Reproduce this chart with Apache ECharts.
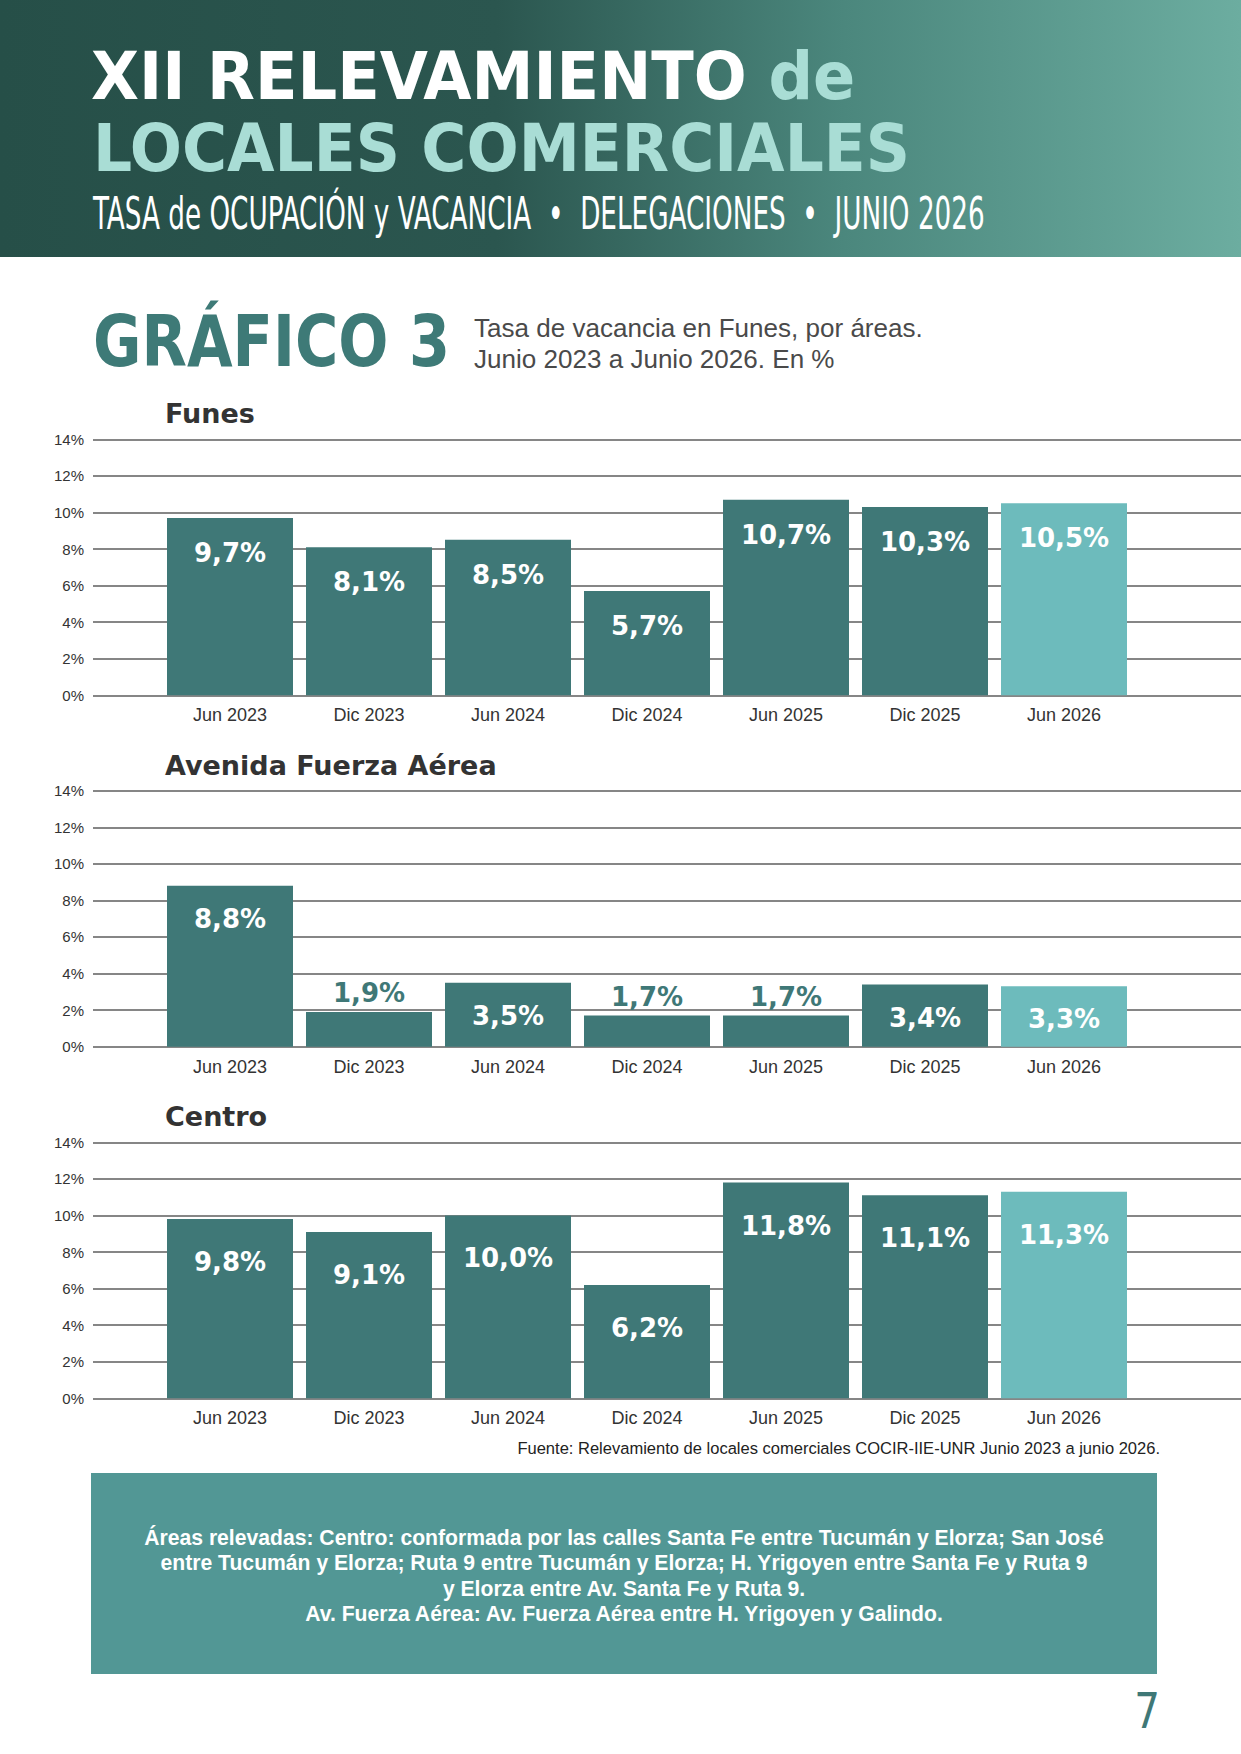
<!DOCTYPE html>
<html>
<head>
<meta charset="utf-8">
<script src="https://cdn.jsdelivr.net/npm/echarts@6/dist/echarts.min.js"></script>
<style>
html,body{margin:0;padding:0;background:#fff;}
#chart{width:1241px;height:1754px;}
</style>
</head>
<body>
<div id="chart"></div>
<script>
// ---------- DATA ----------
const categories = ['Jun 2023', 'Dic 2023', 'Jun 2024', 'Dic 2024', 'Jun 2025', 'Dic 2025', 'Jun 2026'];
const funesValues = [9.7, 8.1, 8.5, 5.7, 10.7, 10.3, 10.5];
const avenidaValues = [8.8, 1.9, 3.5, 1.7, 1.7, 3.4, 3.3];
const centroValues = [9.8, 9.1, 10.0, 6.2, 11.8, 11.1, 11.3];
const yMin = 0, yMax = 14, yStep = 2;
const panelTitles = ['Funes', 'Avenida Fuerza Aérea', 'Centro'];
const headerLine1a = 'XII RELEVAMIENTO ';
const headerLine1b = 'de';
const headerLine2 = 'LOCALES COMERCIALES';
const headerLine3 = 'TASA de OCUPACIÓN y VACANCIA  •  DELEGACIONES  •  JUNIO 2026';
const graphTitle = 'GRÁFICO 3';
const graphDesc = ['Tasa de vacancia en Funes, por áreas.', 'Junio 2023 a Junio 2026. En %'];
const sourceText = 'Fuente: Relevamiento de locales comerciales COCIR-IIE-UNR Junio 2023 a junio 2026.';
const noteLines = [
  'Áreas relevadas: Centro: conformada por las calles Santa Fe entre Tucumán y Elorza; San José',
  'entre Tucumán y Elorza; Ruta 9 entre Tucumán y Elorza; H. Yrigoyen entre Santa Fe y Ruta 9',
  'y Elorza entre Av. Santa Fe y Ruta 9.',
  'Av. Fuerza Aérea: Av. Fuerza Aérea entre H. Yrigoyen y Galindo.'
];
const pageNumber = '7';

// ---------- STYLE / LAYOUT ----------
const DARK = '#3f7877';
const LIGHT = '#6dbbbc';
const SANS = '"Liberation Sans", Arial, Helvetica, sans-serif';
const BOLDF = '"DejaVu Sans", "Liberation Sans", sans-serif';
const CONDB = '"DejaVu Sans Condensed", "DejaVu Sans", sans-serif';
const NARROW = '"Liberation Sans Narrow", "DejaVu Sans Condensed", "DejaVu Sans", sans-serif';

const mctx = document.createElement('canvas').getContext('2d');
function textW(text, weight, size, family) {
  mctx.font = weight + ' ' + size + 'px ' + family;
  return mctx.measureText(text).width;
}
function fitScale(text, weight, size, family, target) {
  return target / textW(text, weight, size, family);
}
function T(x, y, text, o) {
  const st = {
    text: text, fill: o.fill || '#333', fontSize: o.size, fontWeight: o.weight || 'normal',
    fontFamily: o.family || SANS, align: o.align || 'left', textAlign: o.align || 'left',
    verticalAlign: 'middle', textVerticalAlign: 'middle'
  };
  if (o.rich) st.rich = o.rich;
  return { type: 'text', x: x, y: y, scaleX: o.scaleX || 1, silent: true, z: 10, style: st };
}

const panels = [
  { values: funesValues, top: 439.3, labelDist: 22 },
  { values: avenidaValues, top: 790.7, labelDist: 20 },
  { values: centroValues, top: 1142.3, labelDist: 30 }
];
const plotH = 256;
const barLeft = 160.5, barAreaW = 973, barW = 126;

const grids = [], xAxes = [], yAxes = [], series = [];
panels.forEach((p, k) => {
  grids.push({ left: 93, right: 0, top: p.top, height: plotH });
  grids.push({ left: barLeft, width: barAreaW, top: p.top, height: plotH });
  const ga = 2 * k, gb = 2 * k + 1;
  xAxes.push({ gridIndex: ga, type: 'value', min: 0, max: 1, show: false });
  yAxes.push({
    gridIndex: ga, type: 'value', min: yMin, max: yMax, interval: yStep,
    axisLine: { show: false }, axisTick: { show: false },
    axisLabel: { formatter: '{value}%', fontSize: 15, color: '#333', margin: 9, fontFamily: SANS },
    splitLine: { lineStyle: { color: '#5e5e5e', width: 1.6 } }
  });
  xAxes.push({
    gridIndex: gb, type: 'category', data: categories,
    axisLine: { show: false }, axisTick: { show: false },
    axisLabel: { interval: 0, fontSize: 18, color: '#333', margin: 11, fontFamily: SANS }
  });
  yAxes.push({ gridIndex: gb, type: 'value', min: yMin, max: yMax, show: false });
  const last = p.values.length - 1;
  series.push({
    type: 'bar', xAxisIndex: k * 2 + 1, yAxisIndex: k * 2 + 1, barWidth: barW, z: 3,
    data: p.values.map((v, i) => {
      const small = v < 2;
      return {
        value: v,
        itemStyle: { color: i === last ? LIGHT : DARK },
        label: small
          ? { position: 'top', distance: 6, color: DARK }
          : { position: 'insideTop', distance: p.labelDist, color: '#fff' }
      };
    }),
    label: {
      show: true, fontSize: 26, fontWeight: 'bold', fontFamily: BOLDF,
      formatter: (d) => d.value.toFixed(1).replace('.', ',') + '%'
    }
  });
});

// ---------- GRAPHIC (page furniture) ----------
const graphics = [];
graphics.push({
  type: 'rect', shape: { x: 0, y: 0, width: 1241, height: 257 }, silent: true, z: 1,
  style: {
    fill: new echarts.graphic.LinearGradient(0, 0, 1, 0, [
      { offset: 0, color: '#264f48' },
      { offset: 0.4, color: '#2b564f' },
      { offset: 0.68, color: '#4b877d' },
      { offset: 1, color: '#6cada0' }
    ])
  }
});
const hSize = 66;
const l1s = fitScale(headerLine1a + headerLine1b, 'bold', hSize, CONDB, 764);
graphics.push(T(91, 76, '{a|' + headerLine1a + '}{b|' + headerLine1b + '}', {
  size: hSize, weight: 'bold', family: CONDB, fill: '#fff', scaleX: l1s,
  rich: {
    a: { fill: '#ffffff', fontSize: hSize, fontWeight: 'bold', fontFamily: CONDB },
    b: { fill: '#a9ddd5', fontSize: hSize, fontWeight: 'bold', fontFamily: CONDB }
  }
}));
graphics.push(T(93, 148.5, headerLine2, {
  size: hSize, weight: 'bold', family: CONDB, fill: '#a9ddd5',
  scaleX: fitScale(headerLine2, 'bold', hSize, CONDB, 817)
}));
graphics.push(T(93, 214, headerLine3, {
  size: 45, weight: 'normal', family: NARROW, fill: '#ffffff',
  scaleX: fitScale(headerLine3, 'normal', 45, NARROW, 892)
}));
graphics.push(T(93, 341.5, graphTitle, {
  size: 72, weight: 'bold', family: BOLDF, fill: '#3e7a77',
  scaleX: fitScale(graphTitle, 'bold', 72, BOLDF, 357)
}));
const dScale = fitScale(graphDesc[0], 'normal', 26, SANS, 449);
graphics.push(T(474, 328.5, graphDesc[0], { size: 26, fill: '#4a4a4a', scaleX: dScale }));
graphics.push(T(474, 359, graphDesc[1], { size: 26, fill: '#4a4a4a', scaleX: dScale }));
const titleY = [413, 765, 1116.7];
panelTitles.forEach((t, i) => {
  graphics.push(T(165, titleY[i], t, { size: 27, weight: 'bold', family: BOLDF, fill: '#333333' }));
});
let srcSize = 15 * 643 / textW(sourceText, 'normal', 15, SANS);
srcSize = Math.max(13, Math.min(17, srcSize));
graphics.push(T(1160, 1448, sourceText, { size: srcSize, fill: '#222', align: 'right' }));
graphics.push({
  type: 'rect', shape: { x: 91, y: 1473, width: 1066, height: 201 }, silent: true, z: 1,
  style: { fill: '#529795' }
});
let noteSize = 17 * 960 / textW(noteLines[0], 'bold', 17, SANS);
noteSize = Math.max(14, Math.min(24, noteSize));
const noteY = [1537, 1562.5, 1588, 1613.5];
noteLines.forEach((l, i) => {
  graphics.push(T(624, noteY[i], l, { size: noteSize, weight: 'bold', fill: '#ffffff', align: 'center' }));
});
graphics.push(T(1160, 1711, pageNumber, {
  size: 50, family: NARROW, fill: '#3f7877', align: 'right', scaleX: 0.9
}));

const chart = echarts.init(document.getElementById('chart'), null, { renderer: 'svg', width: 1241, height: 1754 });
chart.setOption({
  animation: false,
  backgroundColor: '#ffffff',
  grid: grids,
  xAxis: xAxes,
  yAxis: yAxes,
  series: series,
  graphic: { elements: graphics }
});
</script>
</body>
</html>
